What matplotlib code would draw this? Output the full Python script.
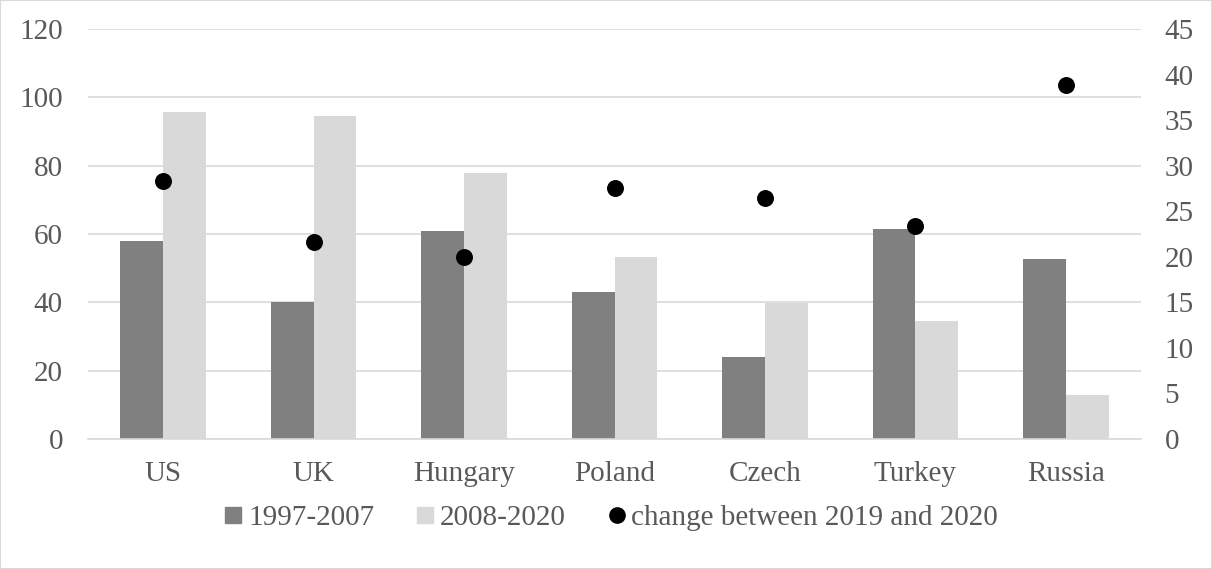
import matplotlib.pyplot as plt
import numpy as np
from matplotlib.lines import Line2D
from matplotlib.patches import Rectangle

# données
pays = ["US", "UK", "Hungary", "Poland", "Czech", "Turkey", "Russia"]
p1997_2007 = [57.9, 40.0, 60.9, 43.1, 23.9, 61.4, 52.6]
p2008_2020 = [95.7, 94.4, 78.0, 53.4, 39.7, 34.4, 12.9]
variation_2019_2020 = [28.35, 21.6, 20.0, 27.6, 26.45, 23.4, 38.86]

plt.rcParams["font.family"] = ["Liberation Serif", "DejaVu Serif"]
plt.rcParams["font.size"] = 21

fig = plt.figure(figsize=(12.12, 5.69), dpi=100)
ax = fig.add_axes([88 / 1212, 1 - 439 / 569, (1141 - 88) / 1212, 410 / 569])
ax2 = ax.twinx()

x = np.arange(len(pays))
w = 0.284
ax.bar(x - w / 2, p1997_2007, width=w, color="#808080", zorder=2)
ax.bar(x + w / 2, p2008_2020, width=w, color="#d9d9d9", zorder=2)
ax2.scatter(x, variation_2019_2020, s=125, color="black", zorder=3)

ax.set_xlim(-0.5, len(pays) - 0.5)
ax.set_ylim(0, 120)
ax.set_yticks(range(0, 121, 20))
ax2.set_ylim(0, 45)
ax2.set_yticks(range(0, 46, 5))
ax.set_xticks(x)
ax.set_xticklabels(pays)

ax.grid(axis="y", color="#d9d9d9", linewidth=1.2, zorder=0)
ax.set_axisbelow(True)
for a in (ax, ax2):
    for s in a.spines.values():
        s.set_visible(False)
ax.spines["bottom"].set_visible(True)
ax.spines["bottom"].set_color("#d9d9d9")
ax.spines["bottom"].set_linewidth(1.2)
ax.tick_params(axis="both", length=0, colors="#595959")
ax.tick_params(axis="y", pad=18)
ax.tick_params(axis="x", pad=16)
ax2.tick_params(axis="y", length=0, pad=17, colors="#595959")

poignees = [
    Line2D([], [], marker="s", linestyle="", color="#808080", markersize=11),
    Line2D([], [], marker="s", linestyle="", color="#d9d9d9", markersize=11),
    Line2D([], [], marker="o", linestyle="", color="black", markersize=11),
]
fig.legend(poignees, ["1997-2007", "2008-2020", "change between 2019 and 2020"],
           loc="center", bbox_to_anchor=(612 / 1212, 1 - 518 / 569), ncol=3,
           frameon=False, handlelength=0.5, handletextpad=0.25,
           columnspacing=1.5, labelcolor="#595959")

fig.patches.append(Rectangle((0, 0), 1, 1, transform=fig.transFigure,
                             fill=False, edgecolor="#d9d9d9", linewidth=1.5))

plt.savefig("out.png", dpi=100)
